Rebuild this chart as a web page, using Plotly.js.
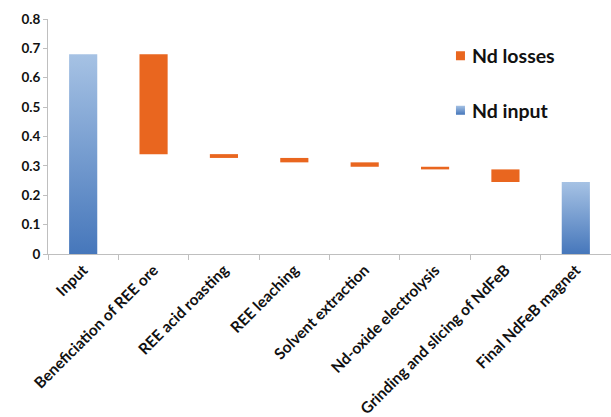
<!DOCTYPE html>
<html>
<head>
<meta charset="utf-8">
<script src="https://cdn.plot.ly/plotly-3.0.1.min.js"></script>
<style>html,body{margin:0;padding:0;background:#fff;}#chart{width:611px;height:417px;}</style>
</head>
<body>
<div id="chart"></div>
<script>
const categories = ["Input","Beneficiation of REE ore","REE acid roasting","REE leaching","Solvent extraction","Nd-oxide electrolysis","Grinding and slicing of NdFeB","Final NdFeB magnet"];
const ndInput  = [0.68, null, null, null, null, null, null, 0.245];
const ndLosses = [null, 0.34, 0.013, 0.015, 0.015, 0.009, 0.043, null];
const yTickVals = [0, 0.1, 0.2, 0.3, 0.4, 0.5, 0.6, 0.7, 0.8];
const yTickText = ["0", "0.1", "0.2", "0.3", "0.4", "0.5", "0.6", "0.7", "0.8"];

// base of each loss bar = amount remaining after that step
const lossBase = [];
let remaining = ndInput[0];
ndLosses.forEach(function (v) {
  if (v === null) { lossBase.push(null); }
  else { remaining -= v; lossBase.push(remaining); }
});

const FONT = "Lato, 'Open Sans', sans-serif";
const orange = "#E9661F";

const traces = [
  {
    type: "bar", name: "<b>Nd losses</b>", x: categories, y: ndLosses, base: lossBase,
    marker: {color: orange}, width: 0.4, legendgroup: "a", hoverinfo: "none"
  },
  {
    type: "bar", name: "<b>Nd input</b>", x: categories, y: ndInput,
    marker: {color: "#6f9bd1"}, width: 0.4, legendgroup: "b", hoverinfo: "none"
  }
];

const layout = {
  width: 611, height: 417,
  margin: {l: 48, r: 0, t: 19, b: 163},
  paper_bgcolor: "#fff", plot_bgcolor: "#fff",
  barmode: "overlay",
  showlegend: true,
  legend: {
    x: 0.682, y: 0.925, xanchor: "left", yanchor: "top",
    font: {family: FONT, size: 19.5, color: "#111"},
    tracegroupgap: 26, traceorder: "grouped", bgcolor: "rgba(0,0,0,0)"
  },
  xaxis: {
    type: "category", range: [-0.5, 7.5],
    showline: true, linecolor: "#bfbfbf", linewidth: 1,
    ticks: "outside", tickson: "boundaries", ticklen: 5, tickcolor: "#bfbfbf",
    tickangle: -45, showgrid: false, zeroline: false,
    tickfont: {family: FONT, size: 15.5, color: "#111", weight: "bold"}
  },
  yaxis: {
    range: [0, 0.8], tickvals: yTickVals, ticktext: yTickText,
    showline: true, linecolor: "#bfbfbf", linewidth: 1,
    ticks: "outside", ticklen: 4, tickcolor: "#bfbfbf",
    showgrid: false, zeroline: false,
    tickfont: {family: FONT, size: 13.5, color: "#111", weight: "bold"}
  }
};

function decorate() {
  const svg = document.querySelector("#chart svg.main-svg");
  if (!svg) return;
  const ns = "http://www.w3.org/2000/svg";
  let defs = svg.querySelector("defs");
  if (!defs) { defs = document.createElementNS(ns, "defs"); svg.insertBefore(defs, svg.firstChild); }
  if (!svg.querySelector("#ndGrad")) {
    const grad = document.createElementNS(ns, "linearGradient");
    grad.setAttribute("id", "ndGrad");
    grad.setAttribute("x1", "0"); grad.setAttribute("y1", "0");
    grad.setAttribute("x2", "0"); grad.setAttribute("y2", "1");
    [["0%", "#a6c2e4"], ["100%", "#4677bb"]].forEach(function (s) {
      const st = document.createElementNS(ns, "stop");
      st.setAttribute("offset", s[0]); st.setAttribute("stop-color", s[1]);
      grad.appendChild(st);
    });
    defs.appendChild(grad);
  }
  const barTraces = svg.querySelectorAll(".barlayer .trace");
  if (barTraces[1]) barTraces[1].querySelectorAll("path").forEach(function (p) { p.style.fill = "url(#ndGrad)"; });
  document.querySelectorAll("#chart .legend .traces").forEach(function (t) {
    t.querySelectorAll(".legendpoints path").forEach(function (p) {
      p.setAttribute("d", "M4.5,4.5H-4.5V-4.5H4.5Z");
      p.setAttribute("transform", "translate(28.5,0)");
      if (t.textContent.indexOf("input") >= 0) p.style.fill = "url(#ndGrad)";
    });
  });
}

const gd = document.getElementById("chart");
Plotly.newPlot(gd, traces, layout, {staticPlot: true}).then(function () {
  decorate();
  gd.on("plotly_afterplot", decorate);
  setTimeout(decorate, 50);
  setTimeout(decorate, 300);
});
</script>
</body>
</html>
